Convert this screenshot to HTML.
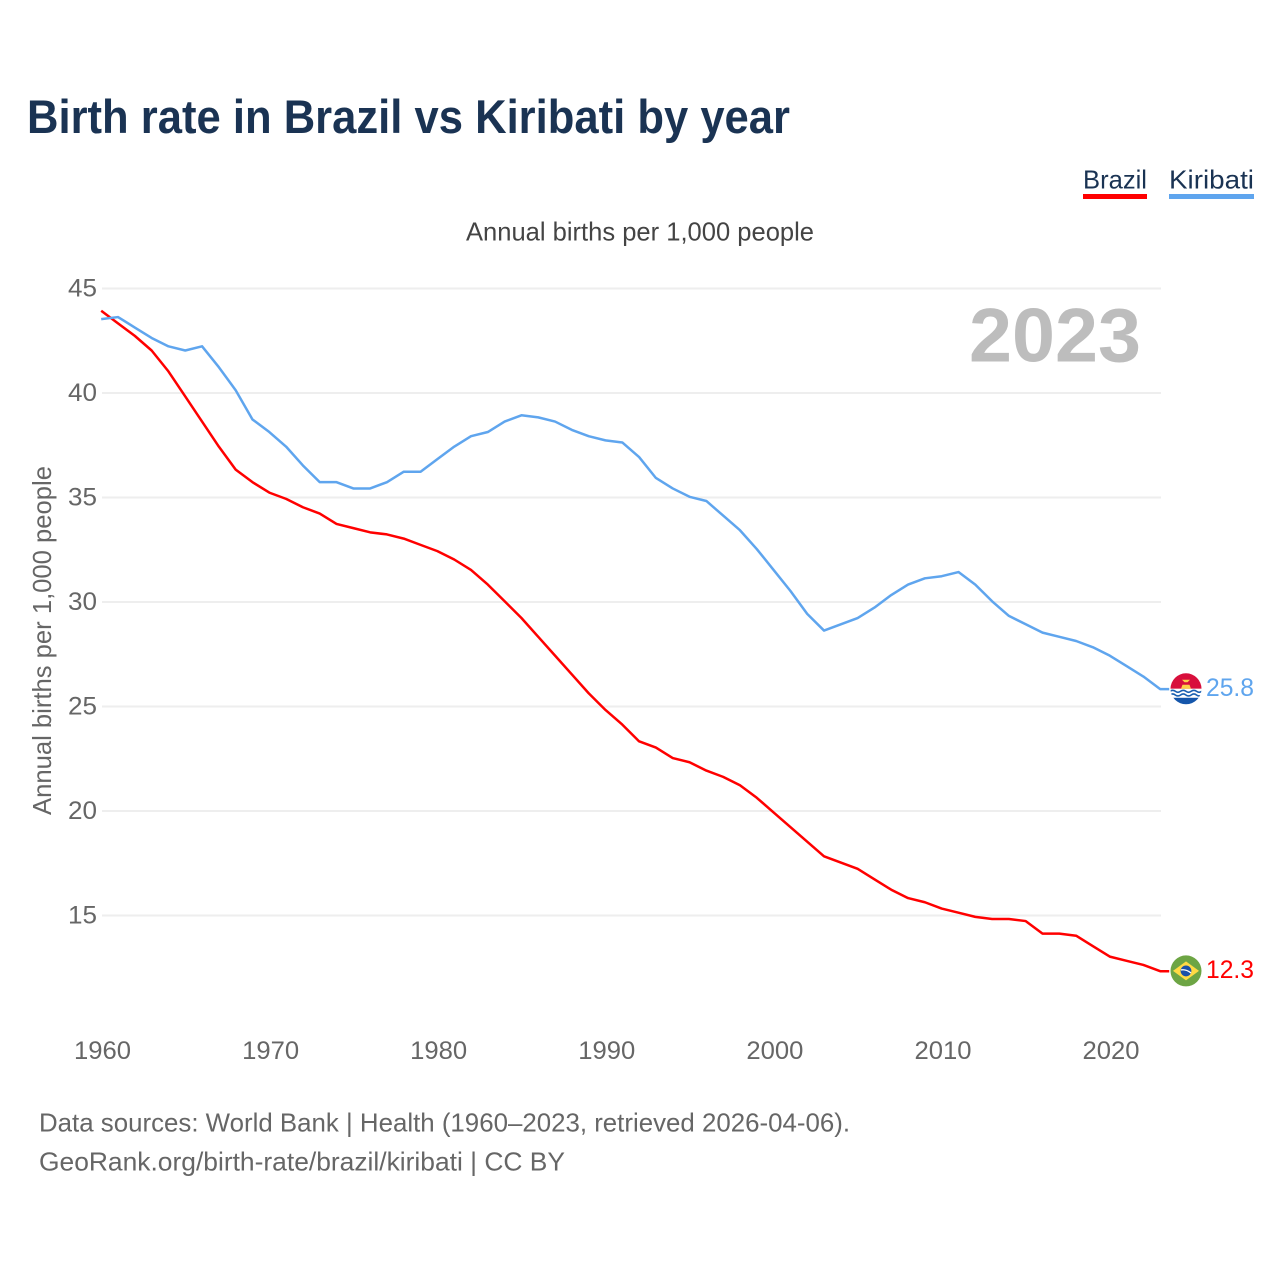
<!DOCTYPE html>
<html lang="en">
<head>
<meta charset="utf-8">
<title>Birth rate in Brazil vs Kiribati by year</title>
<style>
html,body{margin:0;padding:0;background:#fff;width:1280px;height:1280px;overflow:hidden}
svg{display:block}
text{font-family:"Liberation Sans",sans-serif}
</style>
</head>
<body>
<svg id="chart" xmlns="http://www.w3.org/2000/svg" width="1280" height="1280" viewBox="0 0 1280 1280">
  <rect x="0" y="0" width="1280" height="1280" fill="#fff"/>
  <text x="27" y="133" font-size="47" font-weight="700" fill="#1a3353" textLength="763" lengthAdjust="spacingAndGlyphs">Birth rate in Brazil vs Kiribati by year</text>

  <g>
    <g>
      <text x="1083" y="188.5" font-size="26" fill="#1a3353" textLength="64" lengthAdjust="spacingAndGlyphs">Brazil</text>
      <rect x="1083" y="194" width="64" height="5" fill="#ff0000"/>
    </g>
    <g>
      <text x="1169" y="188.5" font-size="26" fill="#1a3353" textLength="85" lengthAdjust="spacingAndGlyphs">Kiribati</text>
      <rect x="1169" y="194" width="85" height="5" fill="#5fa5ee"/>
    </g>
  </g>

  <text x="466" y="240.5" font-size="26" fill="#444" textLength="348" lengthAdjust="spacingAndGlyphs">Annual births per 1,000 people</text>
  <text transform="translate(51,815) rotate(-90)" font-size="26" fill="#666" textLength="349" lengthAdjust="spacingAndGlyphs">Annual births per 1,000 people</text>

  <g id="grid"></g>
  <g id="yticks"></g>
  <g id="xticks"></g>

  <text id="year-label" x="969" y="361.5" font-size="76" font-weight="700" fill="#bdbdbd" textLength="172" lengthAdjust="spacingAndGlyphs">2023</text>

  <g id="series" transform="translate(-0.8,-0.7)"></g>

  <g id="flag-kiribati">
    <defs>
      <clipPath id="clip-ki"><circle cx="0" cy="0" r="15.5"/></clipPath>
      <clipPath id="clip-br"><circle cx="0" cy="0" r="15.5"/></clipPath>
    </defs>
    <g clip-path="url(#clip-ki)">
      <rect x="-16" y="-16" width="32" height="16" fill="#d80f3c"/>
      <rect x="-16" y="0" width="32" height="16" fill="#fff"/>
      <path d="M-5 0 L-3.5 -4 L3.5 -4 L5 0Z" fill="#fdd04a"/>
      <path d="M-4 -9 L4 -9 L1.5 -6.5 L-1.5 -6.5Z" fill="#fdd04a"/>
      <path d="M-16 2.5 q2.7 -2 5.3 0 t5.3 0 t5.3 0 t5.3 0 t5.3 0 t5.3 0" stroke="#1a5fb0" stroke-width="1.6" fill="none"/>
      <path d="M-16 6.2 q2.7 -2 5.3 0 t5.3 0 t5.3 0 t5.3 0 t5.3 0 t5.3 0" stroke="#1a5fb0" stroke-width="1.6" fill="none"/>
      <rect x="-16" y="9" width="32" height="7" fill="#1556ab"/>
    </g>
  </g>
  <g id="flag-brazil">
    <g clip-path="url(#clip-br)">
      <rect x="-16" y="-16" width="32" height="32" fill="#6da544"/>
      <path d="M-13 0 L0 -9.5 L13 0 L0 9.5Z" fill="#ffda44"/>
      <circle cx="0" cy="0" r="5.4" fill="#1a50a8"/>
      <path d="M-5 -1 Q0 -2 5 2" stroke="#fff" stroke-width="1.3" fill="none"/>
    </g>
  </g>

  <g id="end-labels"></g>

  <text x="39" y="1131.5" font-size="26" fill="#666" textLength="811" lengthAdjust="spacingAndGlyphs">Data sources: World Bank | Health (1960–2023, retrieved 2026-04-06).</text>
  <text x="39" y="1170.5" font-size="26" fill="#666" textLength="526" lengthAdjust="spacingAndGlyphs">GeoRank.org/birth-rate/brazil/kiribati | CC BY</text>
</svg>
<script>
var startYear = 1960;
var brazilValues = [43.9,43.3,42.7,42.0,41.0,39.8,38.6,37.4,36.3,35.7,35.2,34.9,34.5,34.2,33.7,33.5,33.3,33.2,33.0,32.7,32.4,32.0,31.5,30.8,30.0,29.2,28.3,27.4,26.5,25.6,24.8,24.1,23.3,23.0,22.5,22.3,21.9,21.6,21.2,20.6,19.9,19.2,18.5,17.8,17.5,17.2,16.7,16.2,15.8,15.6,15.3,15.1,14.9,14.8,14.8,14.7,14.1,14.1,14.0,13.5,13.0,12.8,12.6,12.3];
var kiribatiValues = [43.5,43.6,43.1,42.6,42.2,42.0,42.2,41.2,40.1,38.7,38.1,37.4,36.5,35.7,35.7,35.4,35.4,35.7,36.2,36.2,36.8,37.4,37.9,38.1,38.6,38.9,38.8,38.6,38.2,37.9,37.7,37.6,36.9,35.9,35.4,35.0,34.8,34.1,33.4,32.5,31.5,30.5,29.4,28.6,28.9,29.2,29.7,30.3,30.8,31.1,31.2,31.4,30.8,30.0,29.3,28.9,28.5,28.3,28.1,27.8,27.4,26.9,26.4,25.8];
var yTickValues = [15,20,25,30,35,40,45];
var xTickValues = [1960,1970,1980,1990,2000,2010,2020];

var NS = 'http://www.w3.org/2000/svg';
var plotLeft = 102, plotRight = 1161, plotTop = 288.5, plotBottom = 915.5;
function xScale(year){ return plotLeft + (year - 1960) * (plotRight - plotLeft) / 63; }
function yScale(v){ return plotBottom - (v - 15) * (plotBottom - plotTop) / 30; }
function make(tag, attrs, parent){
  var el = document.createElementNS(NS, tag);
  for (var k in attrs) el.setAttribute(k, attrs[k]);
  parent.appendChild(el);
  return el;
}

var grid = document.getElementById('grid');
var yticks = document.getElementById('yticks');
yTickValues.forEach(function(v){
  var line = make('line', {x1: plotLeft, x2: plotRight, y1: yScale(v), y2: yScale(v), stroke: '#eeeeee', 'stroke-width': 2}, grid);
  
  
  var t = make('text', {x: 97, y: yScale(v) + 8, 'text-anchor': 'end', 'font-size': 25, fill: '#666', textLength: 29, lengthAdjust: 'spacingAndGlyphs'}, yticks);
  
  
  t.textContent = v;
});

var xticks = document.getElementById('xticks');
xTickValues.forEach(function(y){
  var t = make('text', {x: xScale(y) + 0.5, y: 1059, 'text-anchor': 'middle', 'font-size': 25, fill: '#666', textLength: 57, lengthAdjust: 'spacingAndGlyphs'}, xticks);
  
  
  t.textContent = y;
});

function pathFor(values){
  var pts = values.map(function(v, i){ return xScale(startYear + i).toFixed(2) + ',' + yScale(v).toFixed(2); });
  var last = values[values.length - 1];
  pts.push('1170,' + yScale(last).toFixed(2));
  return 'M' + pts.join('L');
}
var series = document.getElementById('series');
var lineBrazil = make('path', {d: pathFor(brazilValues), fill: 'none', stroke: '#ff0000', 'stroke-width': 2.5, 'stroke-linejoin': 'round'}, series);


var lineKiribati = make('path', {d: pathFor(kiribatiValues), fill: 'none', stroke: '#5fa5ee', 'stroke-width': 2.5, 'stroke-linejoin': 'round'}, series);



var lastBr = brazilValues[brazilValues.length - 1];
var lastKi = kiribatiValues[kiribatiValues.length - 1];
document.getElementById('flag-brazil').setAttribute('transform', 'translate(1186,' + (yScale(lastBr) - 1) + ')');
document.getElementById('flag-kiribati').setAttribute('transform', 'translate(1186,' + (yScale(lastKi) - 1) + ')');

var ends = document.getElementById('end-labels');
var labelBrazil = make('text', {x: 1254, y: yScale(lastBr) + 6, 'text-anchor': 'end', 'font-size': 25, fill: '#ff0000', textLength: 48, lengthAdjust: 'spacingAndGlyphs'}, ends);


labelBrazil.textContent = lastBr.toFixed(1);
var labelKiribati = make('text', {x: 1254, y: yScale(lastKi) + 6, 'text-anchor': 'end', 'font-size': 25, fill: '#5fa5ee', textLength: 48, lengthAdjust: 'spacingAndGlyphs'}, ends);


labelKiribati.textContent = lastKi.toFixed(1);
</script>
</body>
</html>
